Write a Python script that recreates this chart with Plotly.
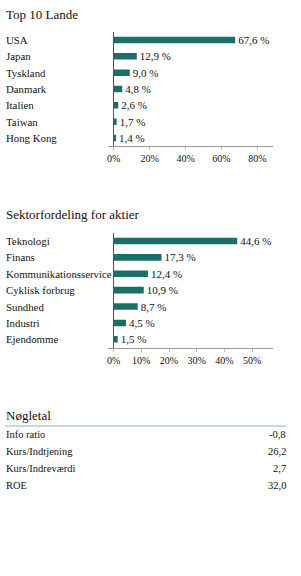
import plotly.graph_objects as go

FONT = "Liberation Serif"
BAR_COLOR = "#1b6f68"

countries = ["USA", "Japan", "Tyskland", "Danmark", "Italien", "Taiwan", "Hong Kong"]
country_values = [67.6, 12.9, 9.0, 4.8, 2.6, 1.7, 1.4]
country_ticks = [0, 20, 40, 60, 80]

sectors = ["Teknologi", "Finans", "Kommunikationsservice", "Cyklisk forbrug",
           "Sundhed", "Industri", "Ejendomme"]
sector_values = [44.6, 17.3, 12.4, 10.9, 8.7, 4.5, 1.5]
sector_ticks = [0, 10, 20, 30, 40, 50]

key_labels = ["Info ratio", "Kurs/Indtjening", "Kurs/Indreværdi", "ROE"]
key_values = ["-0,8", "26,2", "2,7", "32,0"]

W, H = 301, 576


def px_x(p):
    return p / W


def px_y(p):
    return 1 - p / H


def fmt(v):
    return f"{v:.1f}".replace(".", ",") + " %"


fig = go.Figure()

fig.add_trace(go.Bar(
    x=country_values, y=countries, orientation="h", xaxis="x", yaxis="y",
    marker=dict(color=BAR_COLOR, line=dict(width=0)), width=0.4,
    text=[fmt(v) for v in country_values], textposition="outside",
    constraintext="none",
    textfont=dict(family=FONT, size=11, color="#111"), cliponaxis=False,
    hoverinfo="skip",
))
fig.add_trace(go.Bar(
    x=sector_values, y=sectors, orientation="h", xaxis="x2", yaxis="y2",
    marker=dict(color=BAR_COLOR, line=dict(width=0)), width=0.4,
    text=[fmt(v) for v in sector_values], textposition="outside",
    constraintext="none",
    textfont=dict(family=FONT, size=11, color="#111"), cliponaxis=False,
    hoverinfo="skip",
))

xdom = [px_x(108), px_x(273)]
common_x = dict(
    showgrid=False, zeroline=True, zerolinecolor="#555", zerolinewidth=1,
    showline=True, linecolor="#999", linewidth=1,
    ticks="outside", ticklen=3, tickcolor="#bbb",
    tickfont=dict(family=FONT, size=10, color="#111"),
    fixedrange=True, tickmode="array",
)
common_y = dict(showticklabels=False, showgrid=False, zeroline=False,
                showline=False, ticks="", autorange=False, range=[6.5, -0.5],
                fixedrange=True)

fig.update_layout(
    width=W, height=H,
    margin=dict(l=0, r=0, t=0, b=0),
    paper_bgcolor="white", plot_bgcolor="white",
    font=dict(family=FONT, color="#111"),
    showlegend=False,
    xaxis=dict(domain=xdom, range=[-3.1, 88.6], tickvals=country_ticks,
               ticktext=[f"{t}%" for t in country_ticks], anchor="y", **common_x),
    yaxis=dict(domain=[px_y(146.2), px_y(31.8)], anchor="x", **common_y),
    xaxis2=dict(domain=xdom, range=[-2.0, 57.5], tickvals=sector_ticks,
                ticktext=[f"{t}%" for t in sector_ticks], anchor="y2", **common_x),
    yaxis2=dict(domain=[px_y(347.5), px_y(232.8)], anchor="x2", **common_y),
)

LX = px_x(3.5)
ann = []
# Titles
for text, yc in [("Top 10 Lande", 14), ("Sektorfordeling for aktier", 215), ("Nøgletal", 415)]:
    ann.append(dict(text=text, x=LX, y=px_y(yc), xref="paper", yref="paper",
                    xanchor="left", yanchor="middle", showarrow=False,
                    font=dict(family=FONT, size=13, color="#111")))
# Category labels
for cat in countries:
    ann.append(dict(text=cat, x=LX, y=cat, xref="paper", yref="y",
                    xanchor="left", yanchor="middle", showarrow=False,
                    font=dict(family=FONT, size=10.8, color="#111")))
for cat in sectors:
    ann.append(dict(text=cat, x=LX, y=cat, xref="paper", yref="y2",
                    xanchor="left", yanchor="middle", showarrow=False,
                    font=dict(family=FONT, size=10.8, color="#111")))
# Key figures table
row_y0, row_step = 434, 17.3
for i, (lab, val) in enumerate(zip(key_labels, key_values)):
    yc = row_y0 + i * row_step
    ann.append(dict(text=lab, x=LX, y=px_y(yc), xref="paper", yref="paper",
                    xanchor="left", yanchor="middle", showarrow=False,
                    font=dict(family=FONT, size=10.5, color="#111")))
    ann.append(dict(text=val, x=px_x(287.5), y=px_y(yc), xref="paper", yref="paper",
                    xanchor="right", yanchor="middle", showarrow=False,
                    font=dict(family=FONT, size=10.5, color="#111")))
fig.update_layout(annotations=ann)

fig.add_shape(type="line", xref="paper", yref="paper",
              x0=px_x(5), x1=px_x(286), y0=px_y(426), y1=px_y(426),
              line=dict(color="#8db6b6", width=1))

fig.write_html("out.html", config={"displayModeBar": False})
